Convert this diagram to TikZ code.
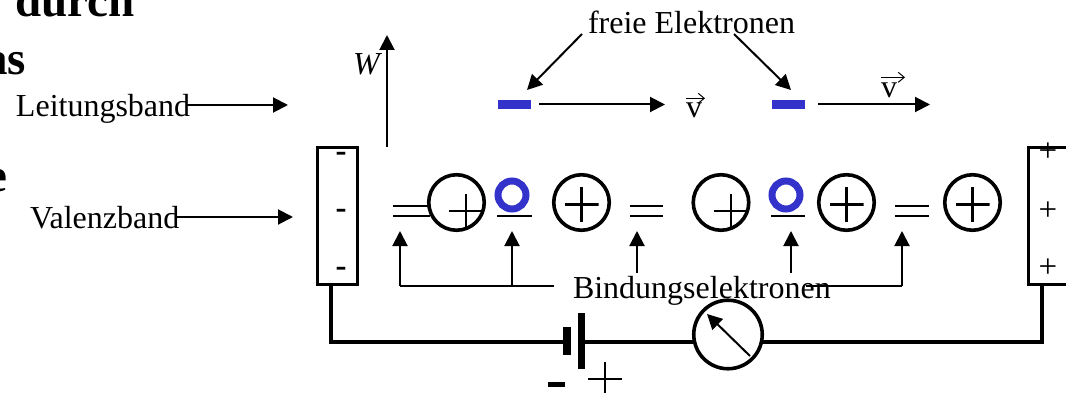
\documentclass[tikz,border=0pt]{standalone}
\usepackage{fontspec}
\setmainfont{Liberation Serif}
\usetikzlibrary{arrows.meta, positioning}
\definecolor{ladung}{RGB}{51,51,204}

\begin{document}
\begin{tikzpicture}[
    x=1pt, y=-1pt,
    txt/.style={inner sep=0pt, outer sep=0pt, anchor=base west, font=\fontsize{32}{36}\selectfont},
    titel/.style={inner sep=0pt, outer sep=0pt, font=\fontsize{47}{52}\selectfont\bfseries},
    pfeil/.style={draw, line width=2pt, -{Triangle[length=15pt, width=15pt]}},
    linie/.style={draw, line width=2pt},
    draht/.style={draw, line width=3.4pt},
    doppel/.style={draw, line width=2pt},
    ion/.style={circle, draw, line width=3.6pt, minimum size=55.5pt, inner sep=0pt, outer sep=0pt},
    loch/.style={circle, draw=ladung, line width=7pt, minimum size=28pt, inner sep=0pt},
    frei/.style={fill=ladung, minimum width=33pt, minimum height=9pt, inner sep=0pt},
    kreuz/.style={minimum size=#1, inner sep=0pt, path picture={
        \draw[line width=2.2pt] (path picture bounding box.west) -- (path picture bounding box.east)
            (path picture bounding box.north) -- (path picture bounding box.south);}},
    elektrode/.style={draw, line width=3.8pt, minimum height=137pt, inner sep=0pt, outer sep=0pt},
    platte/.style={fill=black, inner sep=0pt},
    klein/.style={inner sep=0pt, font=\fontsize{33}{36}\selectfont, anchor=base}
]
    \path[use as bounding box, clip] (0,0) rectangle (1066,393);

    % Reste der Ueberschrift
    \node[titel, anchor=base west] (durch) at (15,17) {durch};
    \node[titel, anchor=base east] (as) at (26,75) {as};
    \node[titel, anchor=base east] (rest) at (7,191) {e};

    % Baender links
    \coordinate (lziel) at (288,105);
    \coordinate (vziel) at (293,217);
    \node[txt] (leitung) at (16,117) {Leitungsband};
    \node[txt] (valenz) at (30,229) {Valenzband};
    \draw[pfeil] ([xshift=-4pt]leitung.east |- lziel) -- (lziel);
    \draw[pfeil] ([xshift=-4pt]valenz.east |- vziel) -- (vziel);

    % Energieachse
    \node[elektrode, minimum width=40pt] (kathode) at (337.5,216) {};
    \coordinate (wfuss) at (387,147);
    \coordinate (wspitze) at (387,35);
    \draw[pfeil] (wfuss) -- (wspitze);
    \node[txt, font=\fontsize{32}{36}\selectfont\itshape] (w) at (353,75) {W};

    \node[klein, font=\fontsize{33}{36}\selectfont\bfseries] (m1) at (341,161.5) {-};
    \node[klein, font=\fontsize{33}{36}\selectfont\bfseries] (m2) at (341,218.5) {-};
    \node[klein, font=\fontsize{33}{36}\selectfont\bfseries] (m3) at (341,276.5) {-};

    % Freie Elektronen
    \node[txt] (freie) at (588,34) {freie Elektronen};
    \node[frei] (e1) at (514.5,104.5) {};
    \node[frei] (e2) at (788.5,104.5) {};
    \coordinate (e1start) at (582,34);
    \coordinate (e2start) at (734,34);
    \coordinate (e1spitze) at (527,90);
    \coordinate (e2spitze) at (791,90);
    \coordinate (v1ziel) at (665,104.5);
    \coordinate (v2ziel) at (930,104.5);
    \draw[pfeil] (e1start) -- (e1spitze);
    \draw[pfeil] (e2start) -- (e2spitze);
    \draw[pfeil] ([xshift=8pt]e1.east) -- (v1ziel);
    \draw[pfeil] ([xshift=13pt]e2.east) -- (v2ziel);
    \node[txt] (v1) at (686,118) {v};
    \node[txt] (v2) at (881,98) {v};
    \draw[line width=1pt, -{Straight Barb[length=6pt, width=10pt]}] ([yshift=5pt]v1.north west) -- ++(19,0);
    \draw[line width=1pt, -{Straight Barb[length=6pt, width=10pt]}] ([yshift=6pt]v2.north west) -- ++(24,0);

    % Atomruempfe und Bindungen
    \node[ion] (i1) at (456.5,202.5) {};
    \node[ion] (i2) at (581.5,202.5) {};
    \node[ion] (i3) at (721,202.5) {};
    \node[ion] (i4) at (846.5,202.5) {};
    \node[ion] (i5) at (972.5,202.5) {};
    \node[kreuz=34pt] (p1) at (466,211) {};
    \node[kreuz=34pt] (p2) at (581.5,204.5) {};
    \node[kreuz=34pt] (p3) at (731,211) {};
    \node[kreuz=34pt] (p4) at (846.5,204.5) {};
    \node[kreuz=34pt] (p5) at (972.5,204.5) {};
    \node[loch] (h1) at (512,195) {};
    \node[loch] (h2) at (786,195) {};

    \draw[doppel] (393,206) -- (428,206) (393,216) -- (430,216);
    \draw[doppel] (630,206) -- (663,206) (630,216) -- (663,216);
    \draw[doppel] (895,206) -- (929,206) (895,216) -- (929,216);
    \draw[doppel] (497,216) -- (532,216);
    \draw[doppel] (771,216) -- (805,216);

    % Bindungselektronen
    \node[txt] (bindung) at (573,298) {Bindungselektronen};
    \coordinate (bziel) at (0,231);
    \coordinate (lende) at (554,286);
    \coordinate (rende) at (806,286);
    \coordinate (lecke) at (400,286);
    \coordinate (recke) at (902,286);
    \coordinate (mitte) at (512,286);
    \coordinate (fuss1) at (637,273);
    \coordinate (fuss2) at (791,273);
    \draw[linie] (lende) -- (lecke);
    \draw[pfeil] (lecke) -- (lecke |- bziel);
    \draw[pfeil] (mitte) -- (mitte |- bziel);
    \draw[pfeil] (fuss1) -- (fuss1 |- bziel);
    \draw[pfeil] (fuss2) -- (fuss2 |- bziel);
    \draw[linie] (rende) -- (recke);
    \draw[pfeil] (recke) -- (recke |- bziel);

    % Rechte Elektrode
    \node[elektrode, minimum width=70pt] (anode) at (1063.5,216) {};
    \node[klein] (a1) at (1048,161.5) {+};
    \node[klein] (a2) at (1048,220.5) {+};
    \node[klein] (a3) at (1048,277.5) {+};

    % Stromkreis
    \coordinate (knickl) at (331,342);
    \coordinate (knickr) at (1042,342);
    \node[platte, minimum width=8pt, minimum height=28pt] (kurz) at (567,341) {};
    \node[platte, minimum width=7pt, minimum height=56pt] (lang) at (581.5,341) {};
    \node[circle, draw, line width=3.6pt, minimum size=68.5pt, inner sep=0pt, outer sep=0pt] (messer) at (728,334.5) {};
    \coordinate (zfuss) at (750,356);
    \coordinate (zspitze) at (707,314);
    \draw[pfeil] (zfuss) -- (zspitze);
    \draw[draht] (kathode.south -| knickl) -- (knickl) -- (kurz.west |- knickl);
    \draw[draht] (lang.east |- knickl) -- (messer.west |- knickl);
    \draw[draht] (messer.east |- knickr) -- (knickr) -- (anode.south -| knickr);
    \node[platte, minimum width=17pt, minimum height=5pt] (bminus) at (556.5,384.5) {};
    \node[kreuz=34pt] (bplus) at (605,379) {};
\end{tikzpicture}
\end{document}
